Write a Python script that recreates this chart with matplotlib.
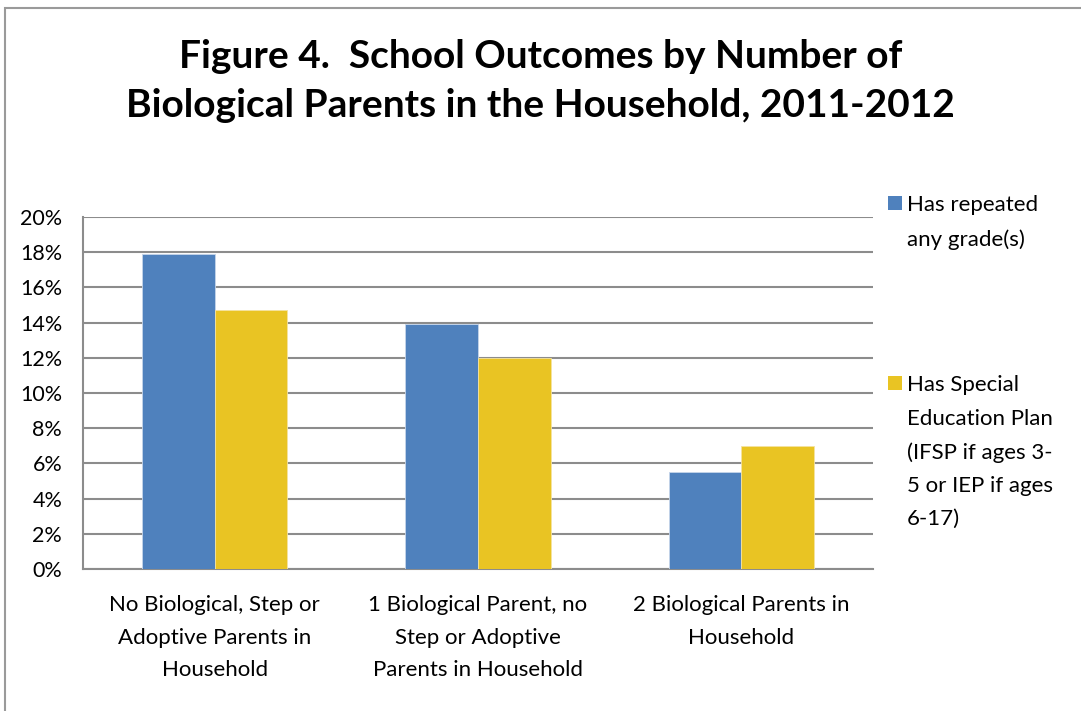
import matplotlib.pyplot as plt
from matplotlib.patches import Rectangle
import numpy as np

plt.rcParams['font.family'] = ['Lato', 'DejaVu Sans']

categories = ['No Biological, Step or\nAdoptive Parents in\nHousehold',
              '1 Biological Parent, no\nStep or Adoptive\nParents in Household',
              '2 Biological Parents in\nHousehold']
series_names = ['Has repeated\nany grade(s)',
                'Has Special\nEducation Plan\n(IFSP if ages 3-\n5 or IEP if ages\n6-17)']
repeated_grade = [17.9, 13.9, 5.5]
special_ed = [14.7, 12.0, 7.0]
colors = ['#4F81BD', '#E9C423']

fig = plt.figure(figsize=(10.81, 7.11), dpi=100)
ax = fig.add_axes([0.0768, 0.1997, 0.7308, 0.4951])

x = np.arange(len(categories))
width = 0.276
ax.bar(x - width / 2, repeated_grade, width, color=colors[0], edgecolor='#C6D5EA', linewidth=0.6, zorder=3)
ax.bar(x + width / 2, special_ed, width, color=colors[1], edgecolor='#F5E3A0', linewidth=0.6, zorder=3)

ax.set_xlim(-0.5, 2.5)
ax.set_ylim(0, 20)
ax.set_yticks(range(0, 21, 2))
ax.set_yticklabels([f'{v}%' for v in range(0, 21, 2)], fontsize=15.5)
ax.set_xticks(x)
ax.set_xticklabels(categories, fontsize=16, linespacing=1.76, va='top')
ax.tick_params(axis='y', length=0, pad=15)
ax.tick_params(axis='x', length=0, pad=19)
ax.yaxis.grid(True, color='#8C8C8C', linewidth=1.5, zorder=0)
for side in ['top', 'right']:
    ax.spines[side].set_visible(False)
for side in ['left', 'bottom']:
    ax.spines[side].set_color('#8C8C8C')
    ax.spines[side].set_linewidth(1.5)

fig.text(0.5, 0.8860, 'Figure 4.  School Outcomes by Number of\nBiological Parents in the Household, 2011-2012',
         ha='center', va='center', fontsize=28, fontweight='bold', linespacing=1.5)

# legend drawn by hand to spread the two entries down the right side
legend_y = [0.7046, 0.4515]
for name, color, ly in zip(series_names, colors, legend_y):
    fig.patches.append(Rectangle((0.8215, ly), 0.0130, 0.0197, transform=fig.transFigure,
                                 facecolor=color, edgecolor='none'))
    fig.text(0.839, ly + 0.0205, name, ha='left', va='top', fontsize=16, linespacing=1.82)

# chart area border
fig.patches.append(Rectangle((0.005, -0.1), 1.2, 1.089, transform=fig.transFigure,
                             facecolor='none', edgecolor='#9A9A9A', linewidth=1.5))

fig.savefig('out.png', dpi=100)
